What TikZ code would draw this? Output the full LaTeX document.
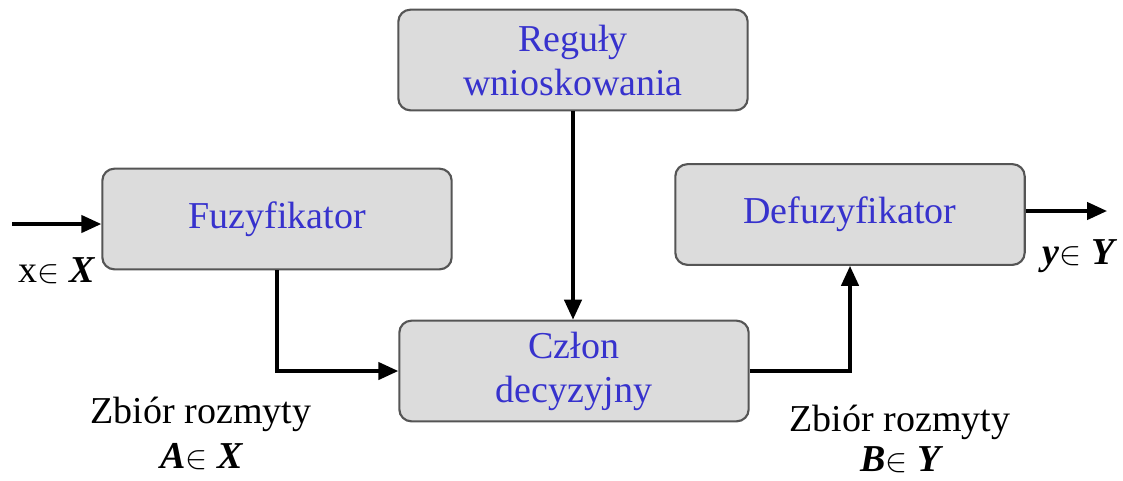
\documentclass[tikz,border=0pt]{standalone}
\usepackage{fontspec}
\setmainfont{Liberation Serif}
\usetikzlibrary{arrows.meta}
\definecolor{boxfill}{RGB}{220,220,220}
\definecolor{boxline}{RGB}{85,85,85}
\definecolor{boxtext}{RGB}{55,50,205}
\begin{document}
\begin{tikzpicture}[x=0.75pt,y=-0.75pt,
  blockbox/.style={draw=boxline,line width=1.6pt,fill=boxfill,rounded corners=9pt,
    minimum width=262pt,minimum height=75.5pt,align=center,text=boxtext,
    font=\fontsize{28.5}{33}\selectfont,inner sep=0pt},
  conn/.style={line width=2.6pt,-{Triangle[length=15pt,width=13pt]}},
  lbl/.style={anchor=base,font=\fontsize{28.5}{33}\selectfont,inner sep=0pt}]
\useasboundingbox (0,0) rectangle (1123,480);
\node[blockbox] (reg) at (573,60) {Reguły\\wnioskowania};
\node[blockbox] (fuz) at (277,219) {Fuzyfikator};
\node[blockbox] (czl) at (574,371) {Człon\\decyzyjny};
\node[blockbox] (def) at (850,214.5) {Defuzyfikator};
\coordinate (in) at (12,224);
\coordinate (out) at (1107,211);
\draw[conn] (in) -- (in -| fuz.west);
\draw[conn] (fuz.south) |- (czl.west);
\draw[conn] (reg.south) -- (reg.south |- czl.north);
\draw[conn] (czl.east) -| (def.south);
\draw[conn] (out -| def.east) -- (out);
\node[lbl] (lx) at (57,282) {x$\in$ \textbf{\textit{X}}};
\node[lbl] (la1) at (201,423) {Zbiór rozmyty};
\node[lbl] (la2) at (202,468) {\textbf{\textit{A}}$\in$ \textbf{\textit{X}}};
\node[lbl] (lb1) at (900,431) {Zbiór rozmyty};
\node[lbl] (lb2) at (902,471) {\textbf{\textit{B}}$\in$ \textbf{\textit{Y}}};
\node[lbl] (ly) at (1080,264) {\textbf{\textit{y}}$\in$ \textbf{\textit{Y}}};
\end{tikzpicture}
\end{document}
